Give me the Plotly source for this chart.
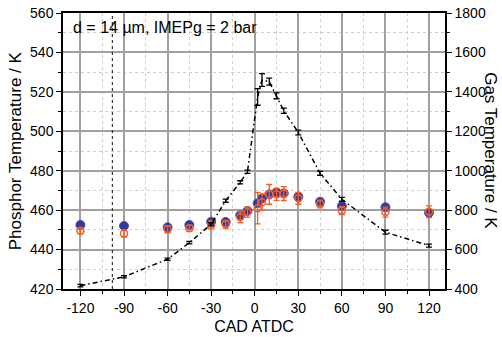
import plotly.graph_objects as go

# Crank angle (CAD ATDC)
cad = [-120, -90, -60, -45, -30, -20, -10, -5, 2, 5, 10, 15, 20, 30, 45, 60, 90, 120]

# Phosphor temperature (K), two series
phos_blue = [452.5, 452.0, 451.3, 452.5, 454.1, 454.0, 457.4, 459.6, 463.5, 466.0,
             468.0, 469.0, 468.5, 466.8, 464.3, 462.1, 461.5, 458.7]
phos_orange = [449.6, 448.2, 450.3, 450.8, 452.5, 452.8, 456.5, 459.0, 461.0, 464.0,
               468.0, 468.0, 468.4, 466.0, 463.1, 459.8, 459.0, 459.2]
phos_orange_err = [1.5, 1.7, 1.8, 1.5, 2.0, 2.0, 2.8, 2.5, 8.0, 4.0,
                   5.0, 3.0, 3.5, 3.0, 2.0, 2.0, 2.5, 3.0]

# Gas temperature (K)
gas = [417, 462, 551, 635, 728, 848, 941, 995, 1374, 1460,
       1452, 1380, 1304, 1194, 987, 855, 688, 620]
gas_err = [6, 6, 6, 6, 8, 8, 8, 8, 42, 32, 18, 15, 13, 12, 10, 10, 10, 8]

# Tick labels
x_ticks = [-120, -90, -60, -30, 0, 30, 60, 90, 120]
x_ticklabels = ["-120", "-90", "-60", "-30", "0", "30", "60", "90", "120"]

ivc_cad = -98
title_text = "d = 14 \u00b5m, IMEPg = 2 bar"
x_title = "CAD ATDC"
y_title = "Phosphor Temperature / K"
y2_title = "Gas Temperature / K"

BLUE = "#2f3b9c"
ORANGE = "#ff5a1f"
FONT = "Liberation Sans, Arial, sans-serif"

fig = go.Figure()

fig.add_trace(go.Scatter(
    x=cad, y=gas, yaxis="y2", mode="lines",
    line=dict(color="black", width=1.5, dash="5px,3px,1.5px,3px"),
    error_y=dict(type="data", array=gas_err, color="black", thickness=1.3, width=3),
    showlegend=False,
))

fig.add_trace(go.Scatter(
    x=cad, y=phos_blue, mode="markers",
    marker=dict(symbol="circle", size=9, color=BLUE, line=dict(color="#4a55b0", width=1)),
    showlegend=False,
))

fig.add_trace(go.Scatter(
    x=cad, y=phos_orange, mode="markers",
    marker=dict(symbol="circle-open", size=7, color=ORANGE, line=dict(color=ORANGE, width=1.5)),
    error_y=dict(type="data", array=phos_orange_err, color=ORANGE, thickness=1.3, width=3),
    showlegend=False,
))

fig.add_shape(type="line", xref="x", yref="paper", x0=ivc_cad, x1=ivc_cad, y0=0, y1=1,
              line=dict(color="#333333", width=1.2, dash="dot"))

fig.add_annotation(text=title_text, xref="paper", yref="paper", x=0.022, y=0.985,
                   xanchor="left", yanchor="top", showarrow=False,
                   font=dict(family=FONT, size=16, color="black"))

fig.add_annotation(text=y_title, xref="paper", yref="paper", x=-0.125, y=0.5,
                   xanchor="center", yanchor="middle", textangle=-90, showarrow=False,
                   font=dict(family=FONT, size=17, color="black"))
fig.add_annotation(text=y2_title, xref="paper", yref="paper", x=1.12, y=0.5,
                   xanchor="center", yanchor="middle", textangle=90, showarrow=False,
                   font=dict(family=FONT, size=17, color="black"))

grid_major = "#a0a0a0"
grid_minor = "#cfcfcf"

fig.update_layout(
    width=502, height=337,
    margin=dict(l=63, r=57, t=13, b=48, autoexpand=False),
    paper_bgcolor="white", plot_bgcolor="white",
    font=dict(family=FONT, size=14, color="black"),
    xaxis=dict(
        range=[-132, 131], tickvals=x_ticks, ticktext=x_ticklabels,
        showline=True, linecolor="black", linewidth=1.5, mirror=True,
        ticks="outside", ticklen=5, tickcolor="black",
        showgrid=True, gridcolor=grid_major, gridwidth=1.5,
        minor=dict(dtick=15, tick0=0, ticks="outside", ticklen=3, tickcolor="black",
                   showgrid=True, gridcolor=grid_minor, griddash="dot", gridwidth=1),
        zeroline=False, automargin=False,
        title=dict(text=x_title, font=dict(size=16), standoff=6),
        tickfont=dict(size=14),
    ),
    yaxis=dict(
        range=[420, 560], dtick=20, tick0=420,
        showline=True, linecolor="black", linewidth=1.5,
        ticks="outside", ticklen=5, tickcolor="black",
        showgrid=True, gridcolor=grid_major, gridwidth=1.5,
        minor=dict(dtick=10, tick0=420, ticks="outside", ticklen=3, tickcolor="black",
                   showgrid=True, gridcolor=grid_minor, griddash="dot", gridwidth=1),
        zeroline=False, automargin=False,
        tickfont=dict(size=14),
    ),
    yaxis2=dict(
        range=[400, 1800], dtick=200, tick0=400,
        overlaying="y", side="right",
        showline=True, linecolor="black", linewidth=1.5,
        ticks="outside", ticklen=5, tickcolor="black",
        minor=dict(dtick=100, ticks="outside", ticklen=3, tickcolor="black", showgrid=False),
        showgrid=False, zeroline=False, automargin=False,
        tickfont=dict(size=14),
    ),
)

fig.write_html("out.html", config={"displayModeBar": False},
               post_script="document.body.style.margin='0px';")
